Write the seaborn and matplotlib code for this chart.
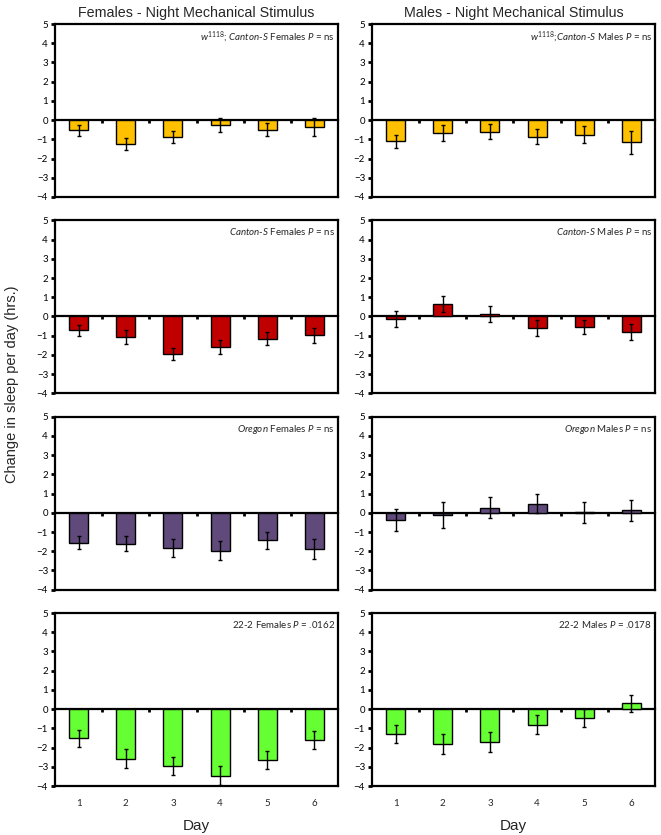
import numpy as np
import pandas as pd
import matplotlib
matplotlib.use("Agg")
import matplotlib.pyplot as plt
import seaborn as sns

# ---- data ----
days = ["1", "2", "3", "4", "5", "6"]

w1118_f = [-0.53, -1.26, -0.88, -0.26, -0.49, -0.37]
w1118_f_err = [0.30, 0.32, 0.32, 0.35, 0.35, 0.46]
w1118_m = [-1.11, -0.67, -0.60, -0.86, -0.77, -1.16]
w1118_m_err = [0.33, 0.40, 0.38, 0.40, 0.44, 0.60]

cs_f = [-0.73, -1.07, -1.94, -1.59, -1.15, -0.98]
cs_f_err = [0.30, 0.35, 0.32, 0.37, 0.33, 0.38]
cs_m = [-0.15, 0.65, 0.12, -0.61, -0.54, -0.82]
cs_m_err = [0.42, 0.40, 0.40, 0.42, 0.37, 0.43]

or_f = [-1.56, -1.61, -1.84, -1.98, -1.43, -1.90]
or_f_err = [0.35, 0.39, 0.45, 0.50, 0.45, 0.52]
or_m = [-0.37, -0.12, 0.27, 0.48, 0.02, 0.12]
or_m_err = [0.58, 0.68, 0.56, 0.50, 0.55, 0.53]

t22_f = [-1.51, -2.57, -2.98, -3.47, -2.64, -1.62]
t22_f_err = [0.44, 0.48, 0.47, 0.50, 0.47, 0.47]
t22_m = [-1.30, -1.81, -1.72, -0.81, -0.44, 0.30]
t22_m_err = [0.46, 0.53, 0.52, 0.50, 0.47, 0.46]

row_colors = ["#FFC000", "#C00000", "#604A7B", "#66FF33"]

labels_f = [r"$\mathit{w}^{1118}$; $\mathit{Canton}$-$\mathit{S}$ Females $\mathit{P}$ = ns",
            r"$\mathit{Canton}$-$\mathit{S}$ Females $\mathit{P}$ = ns",
            r"$\mathit{Oregon}$ Females $\mathit{P}$ = ns",
            r"22-2 Females $\mathit{P}$ = .0162"]
labels_m = [r"$\mathit{w}^{1118}$;$\mathit{Canton}$-$\mathit{S}$ Males $\mathit{P}$ = ns",
            r"$\mathit{Canton}$-$\mathit{S}$ Males $\mathit{P}$ = ns",
            r"$\mathit{Oregon}$ Males $\mathit{P}$ = ns",
            r"22-2 Males $\mathit{P}$ = .0178"]

females = [(w1118_f, w1118_f_err), (cs_f, cs_f_err), (or_f, or_f_err), (t22_f, t22_f_err)]
males = [(w1118_m, w1118_m_err), (cs_m, cs_m_err), (or_m, or_m_err), (t22_m, t22_m_err)]

sns.set_style("white")
plt.rcParams["font.family"] = ["Lato", "DejaVu Sans"]
plt.rcParams["mathtext.fontset"] = "custom"
plt.rcParams["mathtext.rm"] = "Lato"
plt.rcParams["mathtext.it"] = "Lato:italic"

fig, axes = plt.subplots(4, 2, figsize=(6.61, 8.35), dpi=100)
plt.subplots_adjust(left=55 / 661, right=655 / 661, top=1 - 24 / 835,
                    bottom=1 - 786 / 835, wspace=0.12, hspace=0.135)


def draw_panel(ax, vals, errs, color, label, bottom_row):
    df = pd.DataFrame({"day": days, "change": vals})
    sns.barplot(data=df, x="day", y="change", color=color, saturation=1,
                edgecolor="black", linewidth=1.0, width=0.4, errorbar=None, ax=ax)
    ax.errorbar(np.arange(len(days)), vals, yerr=errs, fmt="none",
                ecolor="black", elinewidth=1.0, capsize=1.2, capthick=1.0)
    ax.set_ylim(-4, 5)
    ax.set_xlim(-0.5, len(days) - 0.5)
    ax.set_yticks(range(-4, 6))
    ax.tick_params(axis="y", left=True, direction="out", length=3, width=2,
                   labelsize=7, pad=2, colors="black")
    ax.tick_params(axis="x", bottom=False, length=0, labelsize=7, pad=9)
    for s in ax.spines.values():
        s.set_visible(True)
        s.set_linewidth(1.6)
        s.set_color("black")
    # zero line with small ticks between the days
    sec = ax.secondary_xaxis(4 / 9)
    sec.set_xticks(np.arange(0.5, len(days) - 1, 1.0))
    sec.tick_params(direction="out", length=2.5, width=2, labelbottom=False,
                    labeltop=False, bottom=True, top=False, colors="black")
    sec.spines["bottom"].set_linewidth(1.6)
    sec.spines["bottom"].set_color("black")
    ax.set_ylabel("")
    if bottom_row:
        ax.set_xlabel("Day", fontsize=11, family="Liberation Sans", labelpad=8)
    else:
        ax.set_xlabel("")
        ax.set_xticklabels([])
    ax.text(0.99, 0.965, label, transform=ax.transAxes, ha="right", va="top",
            fontsize=7)


for i in range(4):
    draw_panel(axes[i, 0], females[i][0], females[i][1], row_colors[i], labels_f[i], i == 3)
    draw_panel(axes[i, 1], males[i][0], males[i][1], row_colors[i], labels_m[i], i == 3)

axes[0, 0].set_title("Females - Night Mechanical Stimulus", fontsize=10.3,
                     family="Liberation Sans", pad=5)
axes[0, 1].set_title("Males - Night Mechanical Stimulus", fontsize=10.3,
                     family="Liberation Sans", pad=5)

fig.text(0.018, 0.54, "Change in sleep per day (hrs.)", rotation=90,
         ha="center", va="center", fontsize=10.5, family="Liberation Sans")

fig.savefig("out.png", dpi=100)
